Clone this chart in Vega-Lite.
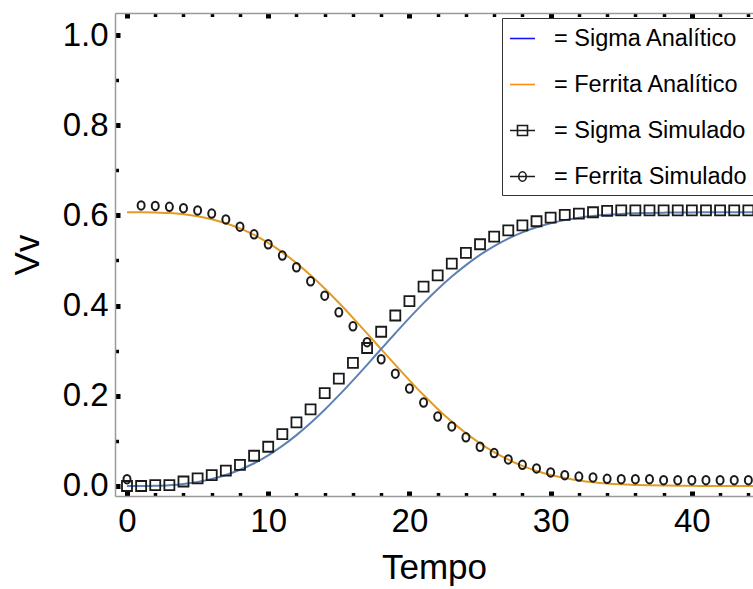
{
  "$schema": "https://vega.github.io/schema/vega-lite/v6.json",
  "width": 638,
  "height": 483,
  "autosize": {"type": "none"},
  "padding": {"left": 115, "top": 13, "right": 0, "bottom": 93},
  "background": "white",
  "config": {
    "view": {"stroke": null},
    "font": "Liberation Sans",
    "axis": {"grid": false, "labelFont": "Liberation Sans", "titleFont": "Liberation Sans", "labelColor": "black", "titleColor": "black", "titleFontWeight": "normal", "domainColor": "#9a9a9a", "domainWidth": 1.5, "tickColor": "black"}
  },
  "datasets": {
    "analytic": [
      {"t":0,"v":0.6070,"series":"Ferrita Analítico"},{"t":1,"v":0.6069,"series":"Ferrita Analítico"},{"t":2,"v":0.6064,"series":"Ferrita Analítico"},{"t":3,"v":0.6051,"series":"Ferrita Analítico"},{"t":4,"v":0.6024,"series":"Ferrita Analítico"},{"t":5,"v":0.5980,"series":"Ferrita Analítico"},{"t":6,"v":0.5916,"series":"Ferrita Analítico"},{"t":7,"v":0.5827,"series":"Ferrita Analítico"},{"t":8,"v":0.5711,"series":"Ferrita Analítico"},{"t":9,"v":0.5566,"series":"Ferrita Analítico"},{"t":10,"v":0.5389,"series":"Ferrita Analítico"},{"t":11,"v":0.5181,"series":"Ferrita Analítico"},{"t":12,"v":0.4942,"series":"Ferrita Analítico"},{"t":13,"v":0.4674,"series":"Ferrita Analítico"},{"t":14,"v":0.4379,"series":"Ferrita Analítico"},{"t":15,"v":0.4062,"series":"Ferrita Analítico"},{"t":16,"v":0.3728,"series":"Ferrita Analítico"},{"t":17,"v":0.3383,"series":"Ferrita Analítico"},{"t":18,"v":0.3032,"series":"Ferrita Analítico"},{"t":19,"v":0.2684,"series":"Ferrita Analítico"},{"t":20,"v":0.2343,"series":"Ferrita Analítico"},{"t":21,"v":0.2016,"series":"Ferrita Analítico"},{"t":22,"v":0.1709,"series":"Ferrita Analítico"},{"t":23,"v":0.1427,"series":"Ferrita Analítico"},{"t":24,"v":0.1172,"series":"Ferrita Analítico"},{"t":25,"v":0.0946,"series":"Ferrita Analítico"},{"t":26,"v":0.0750,"series":"Ferrita Analítico"},{"t":27,"v":0.0583,"series":"Ferrita Analítico"},{"t":28,"v":0.0445,"series":"Ferrita Analítico"},{"t":29,"v":0.0333,"series":"Ferrita Analítico"},{"t":30,"v":0.0244,"series":"Ferrita Analítico"},{"t":31,"v":0.0175,"series":"Ferrita Analítico"},{"t":32,"v":0.0123,"series":"Ferrita Analítico"},{"t":33,"v":0.0084,"series":"Ferrita Analítico"},{"t":34,"v":0.0056,"series":"Ferrita Analítico"},{"t":35,"v":0.0037,"series":"Ferrita Analítico"},{"t":36,"v":0.0024,"series":"Ferrita Analítico"},{"t":37,"v":0.0015,"series":"Ferrita Analítico"},{"t":38,"v":0.0009,"series":"Ferrita Analítico"},{"t":39,"v":0.0005,"series":"Ferrita Analítico"},{"t":40,"v":0.0003,"series":"Ferrita Analítico"},{"t":41,"v":0.0002,"series":"Ferrita Analítico"},{"t":42,"v":0.0001,"series":"Ferrita Analítico"},{"t":43,"v":0.0001,"series":"Ferrita Analítico"},{"t":44,"v":0.0000,"series":"Ferrita Analítico"},{"t":45,"v":0.0000,"series":"Ferrita Analítico"},
      {"t":0,"v":0.0000,"series":"Sigma Analítico"},{"t":1,"v":0.0001,"series":"Sigma Analítico"},{"t":2,"v":0.0006,"series":"Sigma Analítico"},{"t":3,"v":0.0019,"series":"Sigma Analítico"},{"t":4,"v":0.0046,"series":"Sigma Analítico"},{"t":5,"v":0.0090,"series":"Sigma Analítico"},{"t":6,"v":0.0154,"series":"Sigma Analítico"},{"t":7,"v":0.0243,"series":"Sigma Analítico"},{"t":8,"v":0.0359,"series":"Sigma Analítico"},{"t":9,"v":0.0504,"series":"Sigma Analítico"},{"t":10,"v":0.0681,"series":"Sigma Analítico"},{"t":11,"v":0.0889,"series":"Sigma Analítico"},{"t":12,"v":0.1128,"series":"Sigma Analítico"},{"t":13,"v":0.1396,"series":"Sigma Analítico"},{"t":14,"v":0.1691,"series":"Sigma Analítico"},{"t":15,"v":0.2008,"series":"Sigma Analítico"},{"t":16,"v":0.2342,"series":"Sigma Analítico"},{"t":17,"v":0.2687,"series":"Sigma Analítico"},{"t":18,"v":0.3038,"series":"Sigma Analítico"},{"t":19,"v":0.3386,"series":"Sigma Analítico"},{"t":20,"v":0.3727,"series":"Sigma Analítico"},{"t":21,"v":0.4054,"series":"Sigma Analítico"},{"t":22,"v":0.4361,"series":"Sigma Analítico"},{"t":23,"v":0.4643,"series":"Sigma Analítico"},{"t":24,"v":0.4898,"series":"Sigma Analítico"},{"t":25,"v":0.5124,"series":"Sigma Analítico"},{"t":26,"v":0.5320,"series":"Sigma Analítico"},{"t":27,"v":0.5487,"series":"Sigma Analítico"},{"t":28,"v":0.5625,"series":"Sigma Analítico"},{"t":29,"v":0.5737,"series":"Sigma Analítico"},{"t":30,"v":0.5826,"series":"Sigma Analítico"},{"t":31,"v":0.5895,"series":"Sigma Analítico"},{"t":32,"v":0.5947,"series":"Sigma Analítico"},{"t":33,"v":0.5986,"series":"Sigma Analítico"},{"t":34,"v":0.6014,"series":"Sigma Analítico"},{"t":35,"v":0.6033,"series":"Sigma Analítico"},{"t":36,"v":0.6046,"series":"Sigma Analítico"},{"t":37,"v":0.6055,"series":"Sigma Analítico"},{"t":38,"v":0.6061,"series":"Sigma Analítico"},{"t":39,"v":0.6065,"series":"Sigma Analítico"},{"t":40,"v":0.6067,"series":"Sigma Analítico"},{"t":41,"v":0.6068,"series":"Sigma Analítico"},{"t":42,"v":0.6069,"series":"Sigma Analítico"},{"t":43,"v":0.6069,"series":"Sigma Analítico"},{"t":44,"v":0.6070,"series":"Sigma Analítico"},{"t":45,"v":0.6070,"series":"Sigma Analítico"}
    ],
    "sim": [
      {"t":0,"v":0.000,"series":"Sigma Simulado"},{"t":1,"v":0.000,"series":"Sigma Simulado"},{"t":2,"v":0.002,"series":"Sigma Simulado"},{"t":3,"v":0.002,"series":"Sigma Simulado"},{"t":4,"v":0.010,"series":"Sigma Simulado"},{"t":5,"v":0.017,"series":"Sigma Simulado"},{"t":6,"v":0.024,"series":"Sigma Simulado"},{"t":7,"v":0.034,"series":"Sigma Simulado"},{"t":8,"v":0.047,"series":"Sigma Simulado"},{"t":9,"v":0.067,"series":"Sigma Simulado"},{"t":10,"v":0.087,"series":"Sigma Simulado"},{"t":11,"v":0.115,"series":"Sigma Simulado"},{"t":12,"v":0.141,"series":"Sigma Simulado"},{"t":13,"v":0.170,"series":"Sigma Simulado"},{"t":14,"v":0.206,"series":"Sigma Simulado"},{"t":15,"v":0.238,"series":"Sigma Simulado"},{"t":16,"v":0.273,"series":"Sigma Simulado"},{"t":17,"v":0.306,"series":"Sigma Simulado"},{"t":18,"v":0.342,"series":"Sigma Simulado"},{"t":19,"v":0.378,"series":"Sigma Simulado"},{"t":20,"v":0.410,"series":"Sigma Simulado"},{"t":21,"v":0.442,"series":"Sigma Simulado"},{"t":22,"v":0.467,"series":"Sigma Simulado"},{"t":23,"v":0.493,"series":"Sigma Simulado"},{"t":24,"v":0.517,"series":"Sigma Simulado"},{"t":25,"v":0.536,"series":"Sigma Simulado"},{"t":26,"v":0.553,"series":"Sigma Simulado"},{"t":27,"v":0.567,"series":"Sigma Simulado"},{"t":28,"v":0.578,"series":"Sigma Simulado"},{"t":29,"v":0.587,"series":"Sigma Simulado"},{"t":30,"v":0.595,"series":"Sigma Simulado"},{"t":31,"v":0.601,"series":"Sigma Simulado"},{"t":32,"v":0.604,"series":"Sigma Simulado"},{"t":33,"v":0.607,"series":"Sigma Simulado"},{"t":34,"v":0.610,"series":"Sigma Simulado"},{"t":35,"v":0.611,"series":"Sigma Simulado"},{"t":36,"v":0.611,"series":"Sigma Simulado"},{"t":37,"v":0.611,"series":"Sigma Simulado"},{"t":38,"v":0.611,"series":"Sigma Simulado"},{"t":39,"v":0.611,"series":"Sigma Simulado"},{"t":40,"v":0.611,"series":"Sigma Simulado"},{"t":41,"v":0.611,"series":"Sigma Simulado"},{"t":42,"v":0.611,"series":"Sigma Simulado"},{"t":43,"v":0.611,"series":"Sigma Simulado"},{"t":44,"v":0.611,"series":"Sigma Simulado"},
      {"t":0,"v":0.015,"series":"Ferrita Simulado"},{"t":1,"v":0.622,"series":"Ferrita Simulado"},{"t":2,"v":0.621,"series":"Ferrita Simulado"},{"t":3,"v":0.619,"series":"Ferrita Simulado"},{"t":4,"v":0.616,"series":"Ferrita Simulado"},{"t":5,"v":0.611,"series":"Ferrita Simulado"},{"t":6,"v":0.604,"series":"Ferrita Simulado"},{"t":7,"v":0.591,"series":"Ferrita Simulado"},{"t":8,"v":0.575,"series":"Ferrita Simulado"},{"t":9,"v":0.558,"series":"Ferrita Simulado"},{"t":10,"v":0.536,"series":"Ferrita Simulado"},{"t":11,"v":0.511,"series":"Ferrita Simulado"},{"t":12,"v":0.485,"series":"Ferrita Simulado"},{"t":13,"v":0.454,"series":"Ferrita Simulado"},{"t":14,"v":0.422,"series":"Ferrita Simulado"},{"t":15,"v":0.385,"series":"Ferrita Simulado"},{"t":16,"v":0.354,"series":"Ferrita Simulado"},{"t":17,"v":0.319,"series":"Ferrita Simulado"},{"t":18,"v":0.281,"series":"Ferrita Simulado"},{"t":19,"v":0.249,"series":"Ferrita Simulado"},{"t":20,"v":0.216,"series":"Ferrita Simulado"},{"t":21,"v":0.185,"series":"Ferrita Simulado"},{"t":22,"v":0.154,"series":"Ferrita Simulado"},{"t":23,"v":0.132,"series":"Ferrita Simulado"},{"t":24,"v":0.108,"series":"Ferrita Simulado"},{"t":25,"v":0.087,"series":"Ferrita Simulado"},{"t":26,"v":0.073,"series":"Ferrita Simulado"},{"t":27,"v":0.059,"series":"Ferrita Simulado"},{"t":28,"v":0.047,"series":"Ferrita Simulado"},{"t":29,"v":0.039,"series":"Ferrita Simulado"},{"t":30,"v":0.030,"series":"Ferrita Simulado"},{"t":31,"v":0.024,"series":"Ferrita Simulado"},{"t":32,"v":0.021,"series":"Ferrita Simulado"},{"t":33,"v":0.019,"series":"Ferrita Simulado"},{"t":34,"v":0.016,"series":"Ferrita Simulado"},{"t":35,"v":0.015,"series":"Ferrita Simulado"},{"t":36,"v":0.015,"series":"Ferrita Simulado"},{"t":37,"v":0.015,"series":"Ferrita Simulado"},{"t":38,"v":0.013,"series":"Ferrita Simulado"},{"t":39,"v":0.013,"series":"Ferrita Simulado"},{"t":40,"v":0.013,"series":"Ferrita Simulado"},{"t":41,"v":0.013,"series":"Ferrita Simulado"},{"t":42,"v":0.013,"series":"Ferrita Simulado"},{"t":43,"v":0.013,"series":"Ferrita Simulado"},{"t":44,"v":0.013,"series":"Ferrita Simulado"}
    ]
  },
  "layer": [
    {
      "data": {"name": "analytic"},
      "mark": {"type": "line", "strokeWidth": 2, "interpolate": "monotone", "clip": true},
      "encoding": {
        "x": {"field": "t", "type": "quantitative", "scale": {"domain": [-0.85, 44.33], "nice": false, "zero": false},
          "axis": {"orient": "bottom", "values": [0,2,4,6,8,10,12,14,16,18,20,22,24,26,28,30,32,34,36,38,40,42,44],
            "labelExpr": "datum.value % 10 === 0 ? datum.label : ''", "format": "d",
            "labelFontSize": 33, "labelPadding": 14, "labelFlush": false,
            "tickWidth": {"condition": {"test": "datum.value % 10 === 0", "value": 5}, "value": 3.5},
            "tickSize": {"condition": {"test": "datum.value % 10 === 0", "value": -5}, "value": -3.5},
            "title": "Tempo", "titleFontSize": 35, "titlePadding": 12}},
        "y": {"field": "v", "type": "quantitative", "scale": {"domain": [-0.0222, 1.0488], "nice": false, "zero": false},
          "axis": {"orient": "left", "values": [0,0.05,0.1,0.15,0.2,0.25,0.3,0.35,0.4,0.45,0.5,0.55,0.6,0.65,0.7,0.75,0.8,0.85,0.9,0.95,1.0],
            "labelExpr": "abs(datum.value*5 - round(datum.value*5)) < 0.001 ? format(datum.value, '.1f') : ''",
            "labelFontSize": 33, "labelPadding": 12, "labelFlush": false,
            "tickWidth": {"condition": {"test": "abs(datum.value*5 - round(datum.value*5)) < 0.001", "value": 5}, "value": 3.5},
            "tickSize": {"condition": {"test": "abs(datum.value*5 - round(datum.value*5)) < 0.001", "value": -5}, "value": -3.5},
            "title": "Vv", "titleFontSize": 35, "titlePadding": 17}},
        "color": {"field": "series", "type": "nominal", "scale": {"domain": ["Sigma Analítico", "Ferrita Analítico"], "range": ["#5E81B5", "#E19C24"]}, "legend": null}
      }
    },
    {
      "data": {"name": "sim"},
      "transform": [{"filter": "datum.series === 'Sigma Simulado'"}],
      "mark": {"type": "point", "shape": "square", "filled": false, "stroke": "#1a1a1a", "strokeWidth": 1.8, "size": 100, "clip": true, "opacity": 1},
      "encoding": {
        "x": {"field": "t", "type": "quantitative", "scale": {"domain": [-0.85, 44.33], "nice": false, "zero": false},
          "axis": {"orient": "top", "values": [0,2,4,6,8,10,12,14,16,18,20,22,24,26,28,30,32,34,36,38,40,42,44],
            "labels": false, "title": null,
            "tickWidth": {"condition": {"test": "datum.value % 10 === 0", "value": 5}, "value": 3.5},
            "tickSize": {"condition": {"test": "datum.value % 10 === 0", "value": -5}, "value": -3.5}}},
        "y": {"field": "v", "type": "quantitative", "scale": {"domain": [-0.0222, 1.0488], "nice": false, "zero": false}}
      }
    },
    {
      "data": {"name": "sim"},
      "transform": [{"filter": "datum.series === 'Ferrita Simulado'"}],
      "mark": {"type": "point", "shape": "M0.7,0A0.7,0.85,0,1,1,-0.7,0A0.7,0.85,0,1,1,0.7,0", "filled": false, "stroke": "#1a1a1a", "strokeWidth": 2, "size": 100, "clip": true, "opacity": 1},
      "encoding": {
        "x": {"field": "t", "type": "quantitative", "axis": null},
        "y": {"field": "v", "type": "quantitative"}
      }
    },
    {
      "data": {"name": "sim"},
      "transform": [{"filter": "false"}],
      "mark": {"type": "point", "filled": false, "strokeWidth": 1.6, "clip": true, "opacity": 1},
      "encoding": {
        "x": {"field": "t", "type": "quantitative", "axis": null},
        "y": {"field": "v", "type": "quantitative"},
        "stroke": {"field": "series", "type": "nominal",
          "scale": {"domain": ["Sigma Analítico", "Ferrita Analítico", "Sigma Simulado", "Ferrita Simulado"], "range": ["#1414FF", "#FF8A14", "#1a1a1a", "#1a1a1a"]},
          "legend": {"orient": "none", "legendX": 387, "legendY": 5, "title": null,
            "labelExpr": "'= ' + datum.label", "labelFont": "Liberation Sans", "labelFontSize": 23.5, "labelColor": "black", "labelLimit": 400,
            "labelOffset": 18, "symbolSize": 625, "symbolStrokeWidth": 1.6, "symbolFillColor": "transparent", "rowPadding": 21, "padding": 7,
            "strokeColor": "#333", "fillColor": "white"}},
        "shape": {"field": "series", "type": "nominal",
          "scale": {"domain": ["Sigma Analítico", "Ferrita Analítico", "Sigma Simulado", "Ferrita Simulado"], "range": ["stroke", "stroke", "M-1,0H1M-0.4,-0.4H0.4V0.4H-0.4Z", "M-1,0H1M0.3,0A0.3,0.38,0,1,1,-0.3,0A0.3,0.38,0,1,1,0.3,0"]},
          "legend": {"orient": "none", "legendX": 387, "legendY": 5, "title": null,
            "labelExpr": "'= ' + datum.label", "labelFont": "Liberation Sans", "labelFontSize": 23.5, "labelColor": "black", "labelLimit": 400,
            "labelOffset": 18, "symbolSize": 625, "symbolStrokeWidth": 1.6, "symbolFillColor": "transparent", "rowPadding": 21, "padding": 7,
            "strokeColor": "#333", "fillColor": "white"}}
      }
    }
  ]
}
